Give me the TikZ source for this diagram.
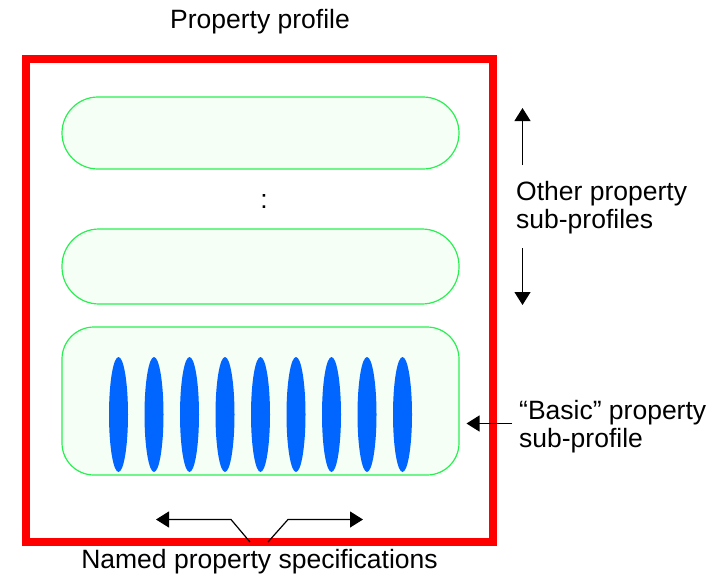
\documentclass[tikz,border=0pt]{standalone}
\usepackage{fontspec}
\setmainfont{Liberation Sans}
\usetikzlibrary{arrows.meta}
\definecolor{frame}{RGB}{255,0,0}
\definecolor{subline}{RGB}{40,240,80}
\definecolor{subfill}{RGB}{245,255,246}
\definecolor{spec}{RGB}{0,102,255}
\tikzset{
  lbl/.style={font=\fontsize{26.5}{28.5}\selectfont, inner sep=0pt},
  subprof/.style={draw=subline, fill=subfill, line width=1.2pt, minimum width=397pt, inner sep=0pt},
  ptr/.style={line width=1.2pt, -{Triangle[length=13pt,width=16pt]}},
}
\begin{document}
\begin{tikzpicture}[x=1pt,y=-1pt]
\useasboundingbox (0,0) rectangle (720,576);

% profile frame
\draw[frame, line width=8pt] (26,59) rectangle (493,542);

% sub-profiles
\node[subprof, rounded corners=36pt, minimum height=72pt] (sp1) at (260.5,133) {};
\node[lbl] (dots) at (264,201) {:};
\node[subprof, rounded corners=37pt, minimum height=75pt] (sp2) at (260.5,266.5) {};
\node[subprof, rounded corners=32pt, minimum height=148pt] (basic) at (260.5,401) {};

% named property specifications
\foreach \i in {0,...,8}
  \fill[spec] (118.5+35.5*\i,414.5) ellipse (9.5pt and 57.5pt);

% labels (base anchor of a two-line node sits on its last line)
\node[lbl, anchor=base] (title) at (260,28) {Property profile};
\node[lbl, anchor=base west, align=left] (other) at (516,228.5) {Other property\\sub-profiles};
\node[lbl, anchor=base west, align=left] (basiclbl) at (519,447.5) {“Basic” property\\sub-profile};
\node[lbl, anchor=base] (names) at (259.5,568) {Named property specifications};

% pointers for the other sub-profiles
\coordinate (upT) at (522.5,165);
\coordinate (upH) at (522.5,108);
\coordinate (dnT) at (522.5,248);
\coordinate (dnH) at (522.5,305);
\draw[ptr] (upT) -- (upH);
\draw[ptr] (dnT) -- (dnH);

% pointer to the basic sub-profile
\coordinate (bT) at (512,423.5);
\coordinate (bH) at (466.5,423.5);
\draw[ptr] (bT) -- (bH);

% pointers to the named specifications
\coordinate (nL) at (250,542);
\coordinate (nR) at (268,542);
\coordinate (kL) at (231,519.5);
\coordinate (kR) at (288,519.5);
\coordinate (hL) at (156,519.5);
\coordinate (hR) at (363,519.5);
\draw[ptr] (nL) -- (kL) -- (hL);
\draw[ptr] (nR) -- (kR) -- (hR);
\end{tikzpicture}
\end{document}
